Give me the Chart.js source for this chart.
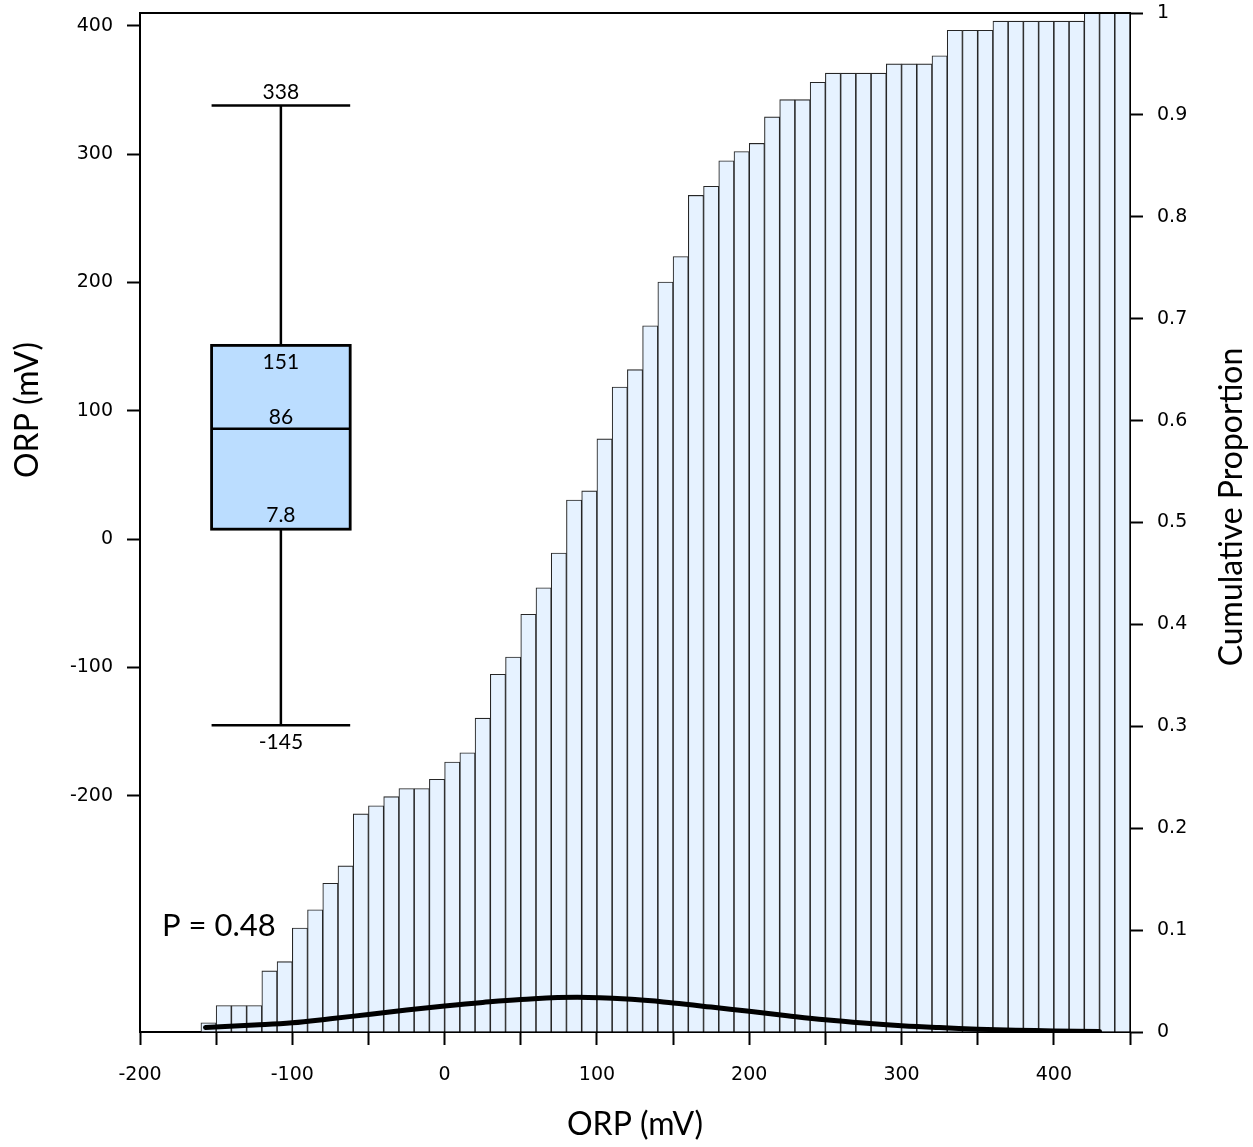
<!DOCTYPE html>
<html>
<head>
<meta charset="utf-8">
<title>ORP cumulative distribution</title>
<script src="https://cdn.jsdelivr.net/npm/chart.js@4.4.1/dist/chart.umd.min.js"></script>
<style>
  html, body { margin: 0; padding: 0; background: #ffffff; }
  #wrap { width: 1253px; height: 1147px; }
</style>
</head>
<body>
<div id="wrap"><canvas id="chart" width="1253" height="1147"></canvas></div>
<script>
// ORP histogram bins (left edge of each 10 mV bin)
const binStarts = [
  -160, -150, -140, -130, -120, -110, -100, -90, -80, -70,
  -60, -50, -40, -30, -20, -10, 0, 10, 20, 30,
  40, 50, 60, 70, 80, 90, 100, 110, 120, 130,
  140, 150, 160, 170, 180, 190, 200, 210, 220, 230,
  240, 250, 260, 270, 280, 290, 300, 310, 320, 330,
  340, 350, 360, 370, 380, 390, 400, 410, 420, 430, 440
];
const binWidth = 10;

// cumulative proportion reached at the end of each bin
const cumProportion = [
  0.009, 0.026, 0.026, 0.026, 0.060, 0.069, 0.102, 0.120, 0.146, 0.163,
  0.214, 0.222, 0.231, 0.239, 0.239, 0.248, 0.265, 0.274, 0.308, 0.351,
  0.368, 0.410, 0.436, 0.470, 0.522, 0.531, 0.582, 0.633, 0.650, 0.693,
  0.736, 0.761, 0.821, 0.830, 0.855, 0.864, 0.872, 0.898, 0.915, 0.915,
  0.932, 0.941, 0.941, 0.941, 0.941, 0.950, 0.950, 0.950, 0.958, 0.983,
  0.983, 0.983, 0.992, 0.992, 0.992, 0.992, 0.992, 0.992, 1.000, 1.000, 1.000
];

// fitted density curve (ORP mV, proportion scale)
const curveOrp = [-157, -125, -100, -75, -50, -25, 0, 25, 50, 87,
                  125, 150, 175, 200, 225, 250, 275, 300, 325, 350, 375, 400, 430];
const curveDensity = [0.0045, 0.0068, 0.009, 0.013, 0.0172, 0.0215, 0.0255, 0.029, 0.0318, 0.034,
                      0.0318, 0.0285, 0.0245, 0.0203, 0.0160, 0.0120, 0.0088, 0.0062, 0.0043,
                      0.0028, 0.0018, 0.0011, 0.0006];

// box plot summary: min, Q1, median, Q3, max
const boxStats = [-145, 7.8, 86, 151, 338];
const pValue = 0.48;

// axis ticks
const xTicks = [-200, -150, -100, -50, 0, 50, 100, 150, 200, 250, 300, 350, 400, 450];
const xLabelTicks = [-200, -100, 0, 100, 200, 300, 400];
const orpTicks = [-200, -100, 0, 100, 200, 300, 400];
const cumTicks = [0, 0.1, 0.2, 0.3, 0.4, 0.5, 0.6, 0.7, 0.8, 0.9, 1];

const tickFont = { family: 'DejaVu Sans', size: 19 };
const titleFont = '32px Lato';

const barPoints = binStarts.map((b, i) => ({ x: b + binWidth / 2, y: cumProportion[i] }));
const curvePoints = curveOrp.map((v, i) => ({ x: v, y: curveDensity[i] }));

// keep the plot frame where the widths/heights below put it
const noOverhang = s => { s.paddingTop = 0; s.paddingBottom = 0; s.paddingLeft = 0; s.paddingRight = 0; };

// top edge of the plot frame
const framePlugin = {
  id: 'frameTop',
  afterDraw(chart) {
    const { ctx, chartArea: a } = chart;
    ctx.save();
    ctx.strokeStyle = '#000';
    ctx.lineWidth = 2;
    ctx.beginPath();
    ctx.moveTo(a.left - 1, a.top);
    ctx.lineTo(a.right + 1, a.top);
    ctx.stroke();
    ctx.restore();
  }
};

// box-and-whisker of ORP drawn against the left axis
const boxPlugin = {
  id: 'orpBox',
  afterDatasetsDraw(chart, args, opts) {
    const ctx = chart.ctx;
    const xs = chart.scales.x, ys = chart.scales.yOrp;
    const [lo, q1, med, q3, hi] = boxStats;
    const L = xs.getPixelForValue(opts.xFrom);
    const R = xs.getPixelForValue(opts.xTo);
    const C = (L + R) / 2;
    const py = v => ys.getPixelForValue(v);
    const seg = (x1, y1, x2, y2) => { ctx.beginPath(); ctx.moveTo(x1, y1); ctx.lineTo(x2, y2); ctx.stroke(); };

    ctx.save();
    ctx.strokeStyle = '#000';
    ctx.lineWidth = 2.5;
    seg(C, py(hi), C, py(q3));
    seg(C, py(q1), C, py(lo));
    seg(L, py(hi), R, py(hi));
    seg(L, py(lo), R, py(lo));

    ctx.fillStyle = '#BBDDFF';
    ctx.fillRect(L, py(q3), R - L, py(q1) - py(q3));
    ctx.lineWidth = 2.8;
    ctx.strokeRect(L, py(q3), R - L, py(q1) - py(q3));
    ctx.lineWidth = 2.5;
    seg(L, py(med), R, py(med));

    ctx.fillStyle = '#000';
    ctx.font = '21px Lato';
    ctx.textAlign = 'center';
    ctx.textBaseline = 'alphabetic';
    ctx.fillText(String(hi), C, py(hi) - 6);
    ctx.fillText(String(q3), C, py(q3) + 24);
    ctx.fillText(String(med), C, py(med) - 5);
    ctx.fillText(String(q1), C, py(q1) - 7);
    ctx.fillText(String(lo), C, py(lo) + 24);
    ctx.restore();
  }
};

// axis titles and the test statistic
const textPlugin = {
  id: 'titles',
  afterDraw(chart) {
    const ctx = chart.ctx;
    const a = chart.chartArea;
    ctx.save();
    ctx.fillStyle = '#000';
    ctx.font = titleFont;
    ctx.textAlign = 'center';
    ctx.textBaseline = 'middle';
    ctx.fillText('ORP (mV)', (a.left + a.right) / 2, 1125);

    ctx.save();
    ctx.translate(28, 410);
    ctx.rotate(-Math.PI / 2);
    ctx.fillText('ORP (mV)', 0, 0);
    ctx.restore();

    ctx.save();
    ctx.translate(1232, 507);
    ctx.rotate(-Math.PI / 2);
    ctx.fillText('Cumulative Proportion', 0, 0);
    ctx.restore();

    ctx.font = '31px Lato';
    ctx.textAlign = 'left';
    ctx.textBaseline = 'alphabetic';
    ctx.fillText('P = ' + pValue, 162, 936);
    ctx.restore();
  }
};

new Chart(document.getElementById('chart'), {
  data: {
    datasets: [
      {
        type: 'line',
        label: 'density',
        data: curvePoints,
        yAxisID: 'yCum',
        borderColor: '#000',
        borderWidth: 5,
        borderCapStyle: 'round',
        pointRadius: 0,
        tension: 0.4,
        fill: false,
        order: 0
      },
      {
        type: 'bar',
        label: 'cumulative',
        data: barPoints,
        yAxisID: 'yCum',
        backgroundColor: '#E6F2FF',
        borderColor: '#262626',
        borderWidth: 1.1,
        barPercentage: 1,
        categoryPercentage: 1,
        order: 1
      }
    ]
  },
  options: {
    responsive: false,
    devicePixelRatio: 1,
    animation: false,
    layout: { padding: { top: 13, left: 0, right: 0, bottom: 0 } },
    plugins: {
      legend: { display: false },
      tooltip: { enabled: false },
      orpBox: { xFrom: -153, xTo: -62 }
    },
    scales: {
      x: {
        type: 'linear',
        position: 'bottom',
        offset: false,
        min: -200,
        max: 450,
        afterBuildTicks: s => { s.ticks = xTicks.map(v => ({ value: v })); },
        afterFit: s => { s.height = 115; noOverhang(s); },
        ticks: {
          autoSkip: false,
          maxRotation: 0,
          padding: 19,
          color: '#000',
          font: tickFont,
          callback: v => (xLabelTicks.includes(v) ? String(v) : '')
        },
        grid: { offset: false, drawOnChartArea: false, tickLength: 13, tickWidth: 2, tickColor: '#000' },
        border: { color: '#000', width: 2 }
      },
      yOrp: {
        type: 'linear',
        position: 'left',
        min: -384,
        max: 410,
        afterBuildTicks: s => { s.ticks = orpTicks.map(v => ({ value: v })); },
        afterFit: s => { s.width = 140; noOverhang(s); },
        ticks: { padding: 14, color: '#000', font: tickFont, callback: v => String(v) },
        grid: { drawOnChartArea: false, tickLength: 13, tickWidth: 2, tickColor: '#000' },
        border: { color: '#000', width: 2 }
      },
      yCum: {
        type: 'linear',
        position: 'right',
        min: 0,
        max: 1,
        afterBuildTicks: s => { s.ticks = cumTicks.map(v => ({ value: v })); },
        afterFit: s => { s.width = 123; noOverhang(s); },
        ticks: { padding: 14, color: '#000', font: tickFont, callback: v => String(v) },
        grid: { drawOnChartArea: false, tickLength: 13, tickWidth: 2, tickColor: '#000' },
        border: { color: '#000', width: 2 }
      }
    }
  },
  plugins: [boxPlugin, textPlugin, framePlugin]
});
</script>
</body>
</html>
